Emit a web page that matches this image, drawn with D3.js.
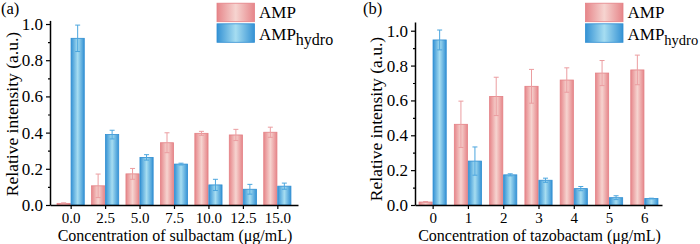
<!DOCTYPE html>
<html>
<head>
<meta charset="utf-8">
<script src="https://cdn.jsdelivr.net/npm/d3@7"></script>
<style>
  body { margin: 0; background: #fff; }
  svg text { font-family: "Liberation Serif", "Times New Roman", serif; fill: #000; }
</style>
</head>
<body>
<div id="plot"></div>
<script>
// panel (a): sulbactam
const catsA = ["0.0", "2.5", "5.0", "7.5", "10.0", "12.5", "15.0"];
const ampA = [0.009, 0.106, 0.172, 0.344, 0.396, 0.387, 0.402];
const ampErrA = [0.003, 0.065, 0.030, 0.055, 0.011, 0.031, 0.028];
const hydA = [0.921, 0.389, 0.263, 0.226, 0.111, 0.087, 0.104];
const hydErrA = [0.073, 0.024, 0.015, 0.005, 0.031, 0.027, 0.017];

// panel (b): tazobactam
const catsB = ["0", "1", "2", "3", "4", "5", "6"];
const ampB = [0.017, 0.463, 0.623, 0.681, 0.717, 0.757, 0.775];
const ampErrB = [0.003, 0.133, 0.110, 0.097, 0.070, 0.072, 0.085];
const hydB = [0.947, 0.252, 0.173, 0.142, 0.094, 0.042, 0.037];
const hydErrB = [0.057, 0.081, 0.006, 0.012, 0.012, 0.011, 0.002];

const yTicks = [0, 0.2, 0.4, 0.6, 0.8, 1.0];
const yMinor = [0.1, 0.3, 0.5, 0.7, 0.9];

const FONT = '"Liberation Serif", "Times New Roman", serif';

const svg = d3.select("#plot").append("svg")
  .attr("width", 700).attr("height", 244)
  .attr("font-family", FONT);

const defs = svg.append("defs");
function grad(id, edge, mid) {
  const g = defs.append("linearGradient").attr("id", id)
    .attr("x1", "0%").attr("x2", "100%").attr("y1", "0%").attr("y2", "0%");
  g.append("stop").attr("offset", "0%").attr("stop-color", edge);
  g.append("stop").attr("offset", "50%").attr("stop-color", mid);
  g.append("stop").attr("offset", "100%").attr("stop-color", edge);
}
grad("pinkG", "#e6868a", "#f6d4d0");
grad("blueG", "#3592d4", "#a6ddf1");

const pink = { fill: "url(#pinkG)", stroke: "#e48085", err: "#eb9da0" };
const blue = { fill: "url(#blueG)", stroke: "#2f8ed2", err: "#4ca6de" };

function panel(o) {
  const g = svg.append("g");
  const x = d3.scalePoint().domain(o.cats).range(o.xr).padding(o.pad);
  const y = d3.scaleLinear().domain(o.yd).range(o.yr);
  const bw = 14;

  const series = [
    { vals: o.amp, errs: o.ampErr, st: pink, off: -bw },
    { vals: o.hyd, errs: o.hydErr, st: blue, off: 0 }
  ];
  series.forEach(s => {
    const d = o.cats.map((c, i) => ({ c, v: s.vals[i], e: s.errs[i] }));
    g.append("g").selectAll("rect").data(d).join("rect")
      .attr("x", d => x(d.c) + s.off + 0.4)
      .attr("width", bw - 0.8)
      .attr("y", d => y(d.v))
      .attr("height", d => y(0) - y(d.v))
      .attr("fill", s.st.fill)
      .attr("stroke", s.st.stroke)
      .attr("stroke-width", 0.8);
    const eb = g.append("g").attr("stroke", s.st.err).attr("stroke-width", 1)
      .selectAll("g").data(d).join("g")
      .attr("transform", d => `translate(${x(d.c) + s.off + bw / 2},0)`);
    eb.append("line").attr("y1", d => y(d.v - d.e)).attr("y2", d => y(d.v + d.e));
    eb.append("line").attr("x1", -2.5).attr("x2", 2.5)
      .attr("y1", d => y(d.v + d.e)).attr("y2", d => y(d.v + d.e));
    eb.append("line").attr("x1", -2.5).attr("x2", 2.5)
      .attr("y1", d => y(d.v - d.e)).attr("y2", d => y(d.v - d.e));
  });

  // axes
  const yAxis = g.append("g").attr("transform", `translate(${o.xr[0]},0)`)
    .call(d3.axisLeft(y).tickValues(yTicks).tickFormat(d3.format(".1f"))
      .tickSize(4).tickSizeOuter(0).tickPadding(3));
  yAxis.attr("font-family", FONT);
  yAxis.selectAll("text").style("font-size", "17px");
  const yMin = g.append("g").attr("transform", `translate(${o.xr[0]},0)`)
    .call(d3.axisLeft(y).tickValues(yMinor).tickFormat("").tickSize(2).tickSizeOuter(0));
  yMin.select(".domain").remove();

  const xAxis = g.append("g").attr("transform", `translate(0,${o.yr[0]})`)
    .call(d3.axisBottom(x).tickSize(4).tickSizeOuter(0).tickPadding(3.5));
  xAxis.attr("font-family", FONT);
  xAxis.selectAll("text").style("font-size", "15px");

  g.selectAll(".domain").attr("stroke-width", 1.5);
  g.selectAll(".tick line").attr("stroke-width", 1.2);

  // titles
  g.append("text")
    .attr("x", (o.xr[0] + o.xr[1]) / 2 + 1).attr("y", 240.8)
    .attr("text-anchor", "middle").style("font-size", "16px")
    .text(o.xTitle);
  g.append("text")
    .attr("transform", `translate(${o.yTitleX},${o.yTitleY}) rotate(-90)`)
    .attr("text-anchor", "middle").style("font-size", "17.5px")
    .text("Relative intensity (a.u.)");
  g.append("text").attr("x", o.tagX).attr("y", 14)
    .style("font-size", "16.5px").text(o.tag);

  // legend
  const lg = g.append("g").attr("transform", `translate(${o.legX},2.7)`);
  [pink, blue].forEach((s, i) => {
    lg.append("rect").attr("x", 0.5).attr("y", i * 20.6 + 0.5)
      .attr("width", 37.5).attr("height", 18.5)
      .attr("fill", s.fill).attr("stroke", s.stroke).attr("stroke-width", 0.8);
  });
  lg.append("text").attr("x", 42.5).attr("y", 15.6)
    .style("font-size", "17px").text("AMP");
  const t2 = lg.append("text").attr("x", 42.5).attr("y", 37.3).style("font-size", "17px");
  t2.append("tspan").text("AMP");
  t2.append("tspan").attr("dy", 5).style("font-size", o.subSize).text("hydro");
}

panel({
  cats: catsA, amp: ampA, ampErr: ampErrA, hyd: hydA, hydErr: hydErrA,
  xr: [50, 298], pad: 0.6, yd: [0, 1.02], yr: [205, 20.4],
  xTitle: "Concentration of sulbactam (μg/mL)",
  yTitleX: 17.5, yTitleY: 114, tag: "(a)", tagX: 1, legX: 216.5, subSize: "16px"
});

panel({
  cats: catsB, amp: ampB, ampErr: ampErrB, hyd: hydB, hydErr: hydErrB,
  xr: [415, 662], pad: 0.5, yd: [0, 1.05], yr: [205, 22],
  xTitle: "Concentration of tazobactam (μg/mL)",
  yTitleX: 382, yTitleY: 119, tag: "(b)", tagX: 363, legX: 585, subSize: "14.5px"
});
</script>
</body>
</html>
